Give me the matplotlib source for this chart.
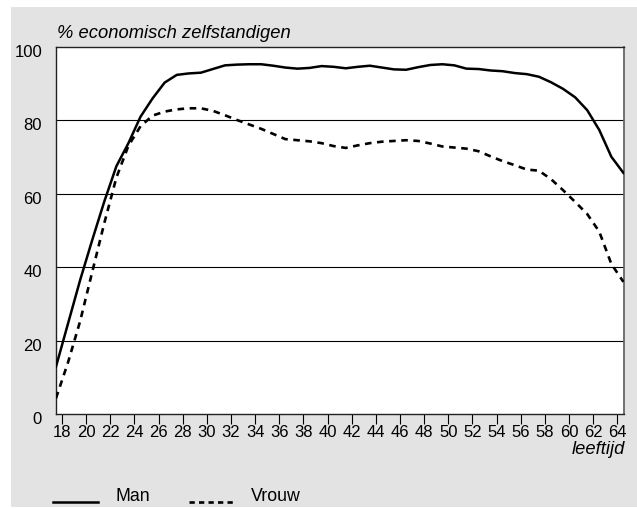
import numpy as np
import matplotlib
matplotlib.use('Agg')
import matplotlib.pyplot as plt
from matplotlib.patches import Rectangle
from matplotlib.legend_handler import HandlerLine2D
from matplotlib.transforms import ScaledTranslation

# leeftijd 18 t/m 65
ages = np.arange(18, 66)

man = [12.9, 24.7, 36.5, 47.4, 57.9, 67.5, 73.8, 81.0, 86.0, 90.3,
       92.4, 92.8, 93.0, 94.0, 95.0, 95.2, 95.3, 95.3, 94.9, 94.4,
       94.1, 94.3, 94.8, 94.6, 94.2, 94.6, 94.9, 94.4, 93.9, 93.8,
       94.5, 95.1, 95.3, 95.0, 94.1, 94.0, 93.6, 93.4, 92.9, 92.6,
       91.9, 90.4, 88.6, 86.3, 82.8, 77.4, 70.1, 65.7]

vrouw = [4.3, 14.1, 25.3, 38.7, 52.0, 64.4, 73.1, 78.4, 81.3, 82.4,
         83.0, 83.3, 83.3, 82.6, 81.4, 80.1, 78.9, 77.7, 76.3, 74.9,
         74.6, 74.3, 73.8, 73.0, 72.5, 73.2, 73.8, 74.2, 74.4, 74.6,
         74.4, 73.7, 72.9, 72.6, 72.3, 71.6, 70.2, 68.9, 67.8, 66.6,
         66.3, 64.0, 61.0, 57.8, 54.5, 49.7, 40.9, 36.0]

xticks = list(range(18, 65, 2))
yticks = [0, 20, 40, 60, 80, 100]

plt.rcParams['font.family'] = ['Liberation Sans', 'DejaVu Sans']

fig = plt.figure(figsize=(6.37, 5.08), dpi=100)
fig.patch.set_facecolor('white')
fig.add_artist(Rectangle((11 / 637, 1 / 508), 1, 1 - 8 / 508, transform=fig.transFigure,
                         facecolor='#e2e3e2', edgecolor='none', zorder=-10))

ax = fig.add_axes([56 / 637, 1 - 414 / 508, 568 / 637, 367 / 508])
ax.set_facecolor('white')

x = ages - 0.5
ax.plot(x, man, color='black', lw=1.8, solid_joinstyle='round', label='Man', zorder=3)
ax.plot(x, vrouw, color='black', lw=1.9, dashes=(2.5, 2.1), dash_capstyle='butt',
        label='Vrouw', zorder=3)

ax.set_xlim(17.5, 64.55)
ax.set_ylim(0, 100)
for yv in yticks[1:-1]:
    ax.axhline(yv, color='black', lw=0.8, zorder=1)

ax.set_xticks(xticks)
ax.set_xticklabels([str(t) for t in xticks], fontsize=12)
ax.set_yticks(yticks)
ax.set_yticklabels([str(t) for t in yticks], fontsize=12)
ax.tick_params(axis='x', direction='out', length=7, width=0.8, pad=1, color='black')
ax.tick_params(axis='y', length=0, pad=10)
off = ScaledTranslation(0, -4 / 100, fig.dpi_scale_trans)
for lab in ax.get_yticklabels():
    lab.set_transform(lab.get_transform() + off)

for s in ['left', 'bottom', 'top']:
    ax.spines[s].set_color('#222222')
    ax.spines[s].set_linewidth(1.0)
ax.spines['right'].set_color('#666666')
ax.spines['right'].set_linewidth(1.3)

fig.text(57 / 637, 1 - 38 / 508, '% economisch zelfstandigen', fontsize=13.2,
         style='italic', va='baseline', ha='left')
fig.text(625 / 637, 1 - 454 / 508, 'leeftijd', fontsize=13.2,
         style='italic', va='baseline', ha='right')


class BaseHandler(HandlerLine2D):
    def create_artists(self, legend, orig_handle, xdescent, ydescent, width,
                       height, fontsize, trans):
        arts = super().create_artists(legend, orig_handle, xdescent, ydescent,
                                      width, height, fontsize, trans)
        for a in arts:
            a.set_ydata(np.zeros_like(a.get_xdata()) - 0.05 * fontsize)
        return arts


h, l = ax.get_legend_handles_labels()
leg = fig.legend(h, l, loc='lower left', bbox_to_anchor=(53 / 637, 1 - 505 / 508),
                 ncol=2, frameon=False, fontsize=12.8, handlelength=2.53,
                 handletextpad=0.96, columnspacing=2.2, borderpad=0,
                 borderaxespad=0, handler_map={type(h[0]): BaseHandler()})
leg.get_lines()[1].set_dashes((2.0, 1.6))

fig.savefig('out.png', dpi=100)
